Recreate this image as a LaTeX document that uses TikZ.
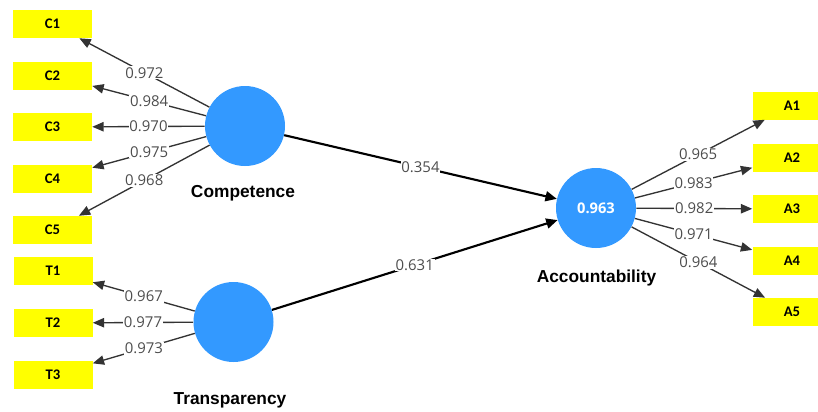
\documentclass[tikz,border=0pt]{standalone}
\usepackage{fontspec}
\setmainfont{Open Sans}
\newfontfamily\boxfont{Carlito}
\newfontfamily\lvfont{Liberation Sans}
\usetikzlibrary{arrows.meta}
\definecolor{lvblue}{HTML}{3399FF}
\definecolor{boxyellow}{HTML}{FFFF00}
\definecolor{lblgray}{HTML}{4D4D4D}
\definecolor{linegray}{HTML}{333333}
\tikzset{
  ind/.style={fill=boxyellow, minimum width=59.25pt, minimum height=21pt, inner sep=0pt,
    font=\boxfont\bfseries\fontsize{11}{13}\selectfont},
  lv/.style={circle, fill=lvblue, minimum size=60pt, inner sep=0pt,
    font=\bfseries\fontsize{11}{13}\selectfont, text=white},
  lvname/.style={font=\lvfont\bfseries\fontsize{13}{15}\selectfont, text=black},
  load/.style={draw=linegray, line width=1pt, -{Triangle[length=8.5pt,width=7pt]}},
  path/.style={draw=black, line width=1.6pt, -{Triangle[length=8.5pt,width=7.5pt]}},
  wt/.style={fill=white, inner sep=0.6pt, text=lblgray, font=\fontsize{11.2}{13}\selectfont, pos=0.5}
}
\begin{document}
\begin{tikzpicture}[x=0.75pt, y=-0.75pt]
\clip (0,0) rectangle (818,411);
\fill[white] (0,0) rectangle (818,411);
% indicators
\node[ind] (C1) at (52.5,24) {C1};
\node[ind] (C2) at (52.5,75.5) {C2};
\node[ind] (C3) at (52.5,127) {C3};
\node[ind] (C4) at (52.5,178.5) {C4};
\node[ind] (C5) at (52.5,230) {C5};
\node[ind] (T1) at (53,271) {T1};
\node[ind] (T2) at (53,323) {T2};
\node[ind] (T3) at (53,375) {T3};
\node[ind] (A1) at (792,105.5) {A1};
\node[ind] (A2) at (792,157.5) {A2};
\node[ind] (A3) at (792,209) {A3};
\node[ind] (A4) at (792,260.5) {A4};
\node[ind] (A5) at (792,312) {A5};
% latent variables
\node[lv] (Comp) at (245,126) {};
\node[lv] (Trans) at (233.5,322) {};
\node[lv] (Acc) at (596,208) {0.963};
\node[lvname] (CompL) at (243,193.5) {Competence};
\node[lvname] (TransL) at (230,400) {Transparency};
\node[lvname] (AccL) at (596.5,278) {Accountability};
% loadings
\draw[load] (Comp) -- (C1) node[wt] {0.972};
\draw[load] (Comp) -- (C2) node[wt] {0.984};
\draw[load] (Comp) -- (C3) node[wt] {0.970};
\draw[load] (Comp) -- (C4) node[wt] {0.975};
\draw[load] (Comp) -- (C5) node[wt] {0.968};
\draw[load] (Trans) -- (T1) node[wt] {0.967};
\draw[load] (Trans) -- (T2) node[wt] {0.977};
\draw[load] (Trans) -- (T3) node[wt] {0.973};
\draw[load] (Acc) -- (A1) node[wt] {0.965};
\draw[load] (Acc) -- (A2) node[wt] {0.983};
\draw[load] (Acc) -- (A3) node[wt] {0.982};
\draw[load] (Acc) -- (A4) node[wt] {0.971};
\draw[load] (Acc) -- (A5) node[wt] {0.964};
% paths
\draw[path] (Comp) -- (Acc) node[wt] {0.354};
\draw[path] (Trans) -- (Acc) node[wt] {0.631};
\end{tikzpicture}
\end{document}
